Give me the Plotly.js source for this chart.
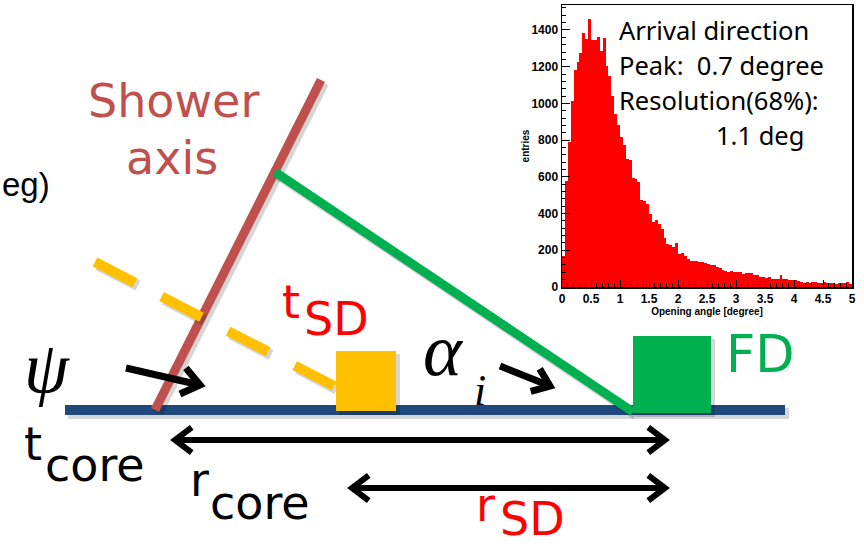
<!DOCTYPE html>
<html>
<head>
<meta charset="utf-8">
<script src="https://cdn.plot.ly/plotly-3.0.1.min.js"></script>
<style>html,body{margin:0;padding:0;background:#fff;}#chart{width:864px;height:548px;}</style>
</head>
<body>
<div id="chart"></div>
<script>
// ---- Histogram data (opening angle, 0.05 degree bins from 0 to 5) ----
const binWidth = 0.05;
const entries = [
  170, 575, 790, 1015, 1180, 1225, 1275, 1385, 1350, 1460,
  1345, 1345, 1360, 1285, 1355, 1205, 1150, 1040, 945, 885,
  815, 773, 695, 690, 595, 590, 573, 473, 468, 451,
  400, 355, 364, 342, 318, 269, 236, 227, 218, 240,
  182, 185, 167, 155, 140, 142,
  140, 137, 136, 130, 127, 120, 118, 110, 104, 91,
  86, 84, 85, 82, 82, 80, 72, 78, 77, 76,
  67, 64, 55, 56, 49, 52, 45, 46, 44, 64,
  45, 44, 40, 38, 40, 33, 27, 24, 25, 22,
  27, 26, 22, 24, 26, 23, 24, 20, 18, 24,
  22, 21, 25, 18
];
const binCenters = entries.map((_, i) => binWidth * (i + 0.5));
const xTitle = 'Opening angle [degree]';
const yTitle = 'entries';
const insetText = ['Arrival direction', 'Peak:  0.7 degree', 'Resolution(68%):', '1.1 deg'];

// ---- Diagram helpers (pixel -> paper) ----
const W = 864, H = 548;
const fx = x => x / W;
const fy = y => 1 - y / H;
const shapes = [];
const annotations = [];
const SH = 3;              // shadow offset (px)
const shadowColor = '#000';
const shadowOpacity = 0.16;

function seg(x0, y0, x1, y1, color, width, dash, shadow) {
  if (shadow !== false) {
    shapes.push({type: 'line', xref: 'paper', yref: 'paper', layer: 'below', opacity: shadowOpacity,
      x0: fx(x0 + SH), y0: fy(y0 + SH), x1: fx(x1 + SH), y1: fy(y1 + SH),
      line: {color: shadowColor, width: width + 1, dash: dash || 'solid'}});
  }
  shapes.push({type: 'line', xref: 'paper', yref: 'paper', layer: 'below',
    x0: fx(x0), y0: fy(y0), x1: fx(x1), y1: fy(y1),
    line: {color: color, width: width, dash: dash || 'solid'}});
}
function rect(x0, y0, x1, y1, color) {
  shapes.push({type: 'rect', xref: 'paper', yref: 'paper', layer: 'below', opacity: shadowOpacity,
    x0: fx(x0 + SH), y0: fy(y0 + SH), x1: fx(x1 + SH + 1), y1: fy(y1 + SH + 1),
    fillcolor: shadowColor, line: {width: 0}});
  shapes.push({type: 'rect', xref: 'paper', yref: 'paper', layer: 'below',
    x0: fx(x0), y0: fy(y0), x1: fx(x1), y1: fy(y1),
    fillcolor: color, line: {width: 0}});
}
function path(points, color, width) {
  const d = points.map((p, i) => (i ? 'L' : 'M') + fx(p[0]) + ',' + fy(p[1])).join(' ');
  shapes.push({type: 'path', xref: 'paper', yref: 'paper', layer: 'below', path: d,
    line: {color: color, width: width}});
}
function head(tx, ty, fromX, fromY, len, ang, color, width) {
  const dx = tx - fromX, dy = ty - fromY, L = Math.hypot(dx, dy);
  const ux = dx / L, uy = dy / L;
  const c = Math.cos(ang), s = Math.sin(ang);
  const a1 = [tx - len * (ux * c - uy * s), ty - len * (ux * s + uy * c)];
  const a2 = [tx - len * (ux * c + uy * s), ty - len * (-ux * s + uy * c)];
  path([a1, [tx, ty], a2], color, width);
}
function arrow(x0, y0, x1, y1, both, len, color, width) {
  seg(x0, y0, x1, y1, color, width, 'solid', false);
  head(x1, y1, x0, y0, len, 0.65, color, width);
  if (both) head(x0, y0, x1, y1, len, 0.65, color, width);
}
function txt(s, x, y, size, color, family, xanchor, italic) {
  annotations.push({text: s, xref: 'paper', yref: 'paper', x: fx(x), y: fy(y),
    xanchor: xanchor || 'left', yanchor: 'middle', showarrow: false,
    font: {size: size, color: color, family: family, style: italic ? 'italic' : 'normal'}});
}

// ground line
rect(65, 405, 785, 415, '#1f497d');
// shower axis
seg(321, 80, 155, 410, '#c0504d', 9);
// SD timing (dashed) line
seg(95, 262, 334, 386, '#ffc000', 10, '45px,30px');
// FD line
seg(275, 172, 633, 412, '#00b050', 9);
// SD and FD detectors
rect(336, 351, 396, 411, '#ffc000');
rect(633, 336, 711, 413, '#00b050');
// arrows
arrow(126, 368, 200, 385, false, 22, '#000', 7);
arrow(500, 366, 550, 386, false, 20, '#000', 7);
arrow(175, 440, 665, 440, true, 21, '#000', 6);
arrow(352, 488, 665, 488, true, 21, '#000', 6);

const sans = 'DejaVu Sans';
const serif = 'Liberation Serif';
txt('Shower', 173, 101, 46, '#c0504d', sans, 'center');
txt('axis', 172, 158, 46, '#c0504d', sans, 'center');
txt('eg)', 0, 184, 33, '#000', 'Liberation Sans');
txt('t', 280, 302, 46, '#ff0000', sans);
txt('SD', 302, 319, 46, '#ff0000', sans);
txt('FD', 724, 354, 51, '#00b050', sans);
txt('ψ', 47, 368, 72, '#000', serif, 'center', true);
txt('α', 443, 350, 74, '#000', serif, 'center', true);
txt('i', 480, 390, 44, '#000', serif, 'center', true);
txt('t', 22, 444, 46, '#000', sans);
txt('core', 43, 465, 46, '#000', sans);
txt('r', 188, 480, 46, '#000', sans);
txt('core', 208, 503, 46, '#000', sans);
txt('r', 474, 505, 46, '#ff0000', sans);
txt('SD', 498, 519, 46, '#ff0000', sans);

// inset text
const insetFont = 'Noto Sans';
txt(insetText[0], 617, 30, 25.5, '#000', insetFont);
txt(insetText[1], 617, 65, 25.5, '#000', insetFont);
txt(insetText[2], 617, 100, 25.5, '#000', insetFont);
txt(insetText[3], 714, 135, 25.5, '#000', insetFont);

const tickFont = {family: 'Liberation Sans', size: 12, color: '#000', weight: 'bold'};
const data = [{
  type: 'bar', x: binCenters, y: entries, width: binWidth,
  marker: {color: '#ff0000', line: {width: 0}}, hoverinfo: 'x+y'
}];
const layout = {
  width: 864, height: 548, margin: {l: 0, r: 0, t: 0, b: 0},
  paper_bgcolor: '#fff', plot_bgcolor: 'rgba(0,0,0,0)', showlegend: false, bargap: 0,
  xaxis: {domain: [562 / W, 852 / W], range: [0, 5], tick0: 0, dtick: 0.5,
    ticks: 'inside', ticklen: 7, tickcolor: '#000', tickwidth: 1,
    minor: {dtick: 0.1, ticks: 'inside', ticklen: 4, tickcolor: '#000', tickwidth: 1, showgrid: false},
    showline: true, linecolor: '#000', linewidth: 1.5, mirror: true,
    showgrid: false, zeroline: false, tickfont: tickFont, automargin: false,
    title: {text: xTitle, font: {family: 'Liberation Sans', size: 10, color: '#000', weight: 'bold'}, standoff: 0}},
  yaxis: {domain: [1 - 287 / H, 1 - 5 / H], range: [0, 1536], tick0: 0, dtick: 200,
    ticks: 'inside', ticklen: 8, tickcolor: '#000', tickwidth: 1,
    minor: {dtick: 40, ticks: 'inside', ticklen: 4, tickcolor: '#000', tickwidth: 1, showgrid: false},
    showline: true, linecolor: '#000', linewidth: 1.5, mirror: true,
    showgrid: false, zeroline: false, tickfont: tickFont, automargin: false,
    title: {text: yTitle, font: {family: 'Liberation Sans', size: 10, color: '#000', weight: 'bold'}, standoff: 0}},
  shapes: shapes,
  annotations: annotations
};
Plotly.newPlot('chart', data, layout, {displayModeBar: false, staticPlot: true});
</script>
</body>
</html>
